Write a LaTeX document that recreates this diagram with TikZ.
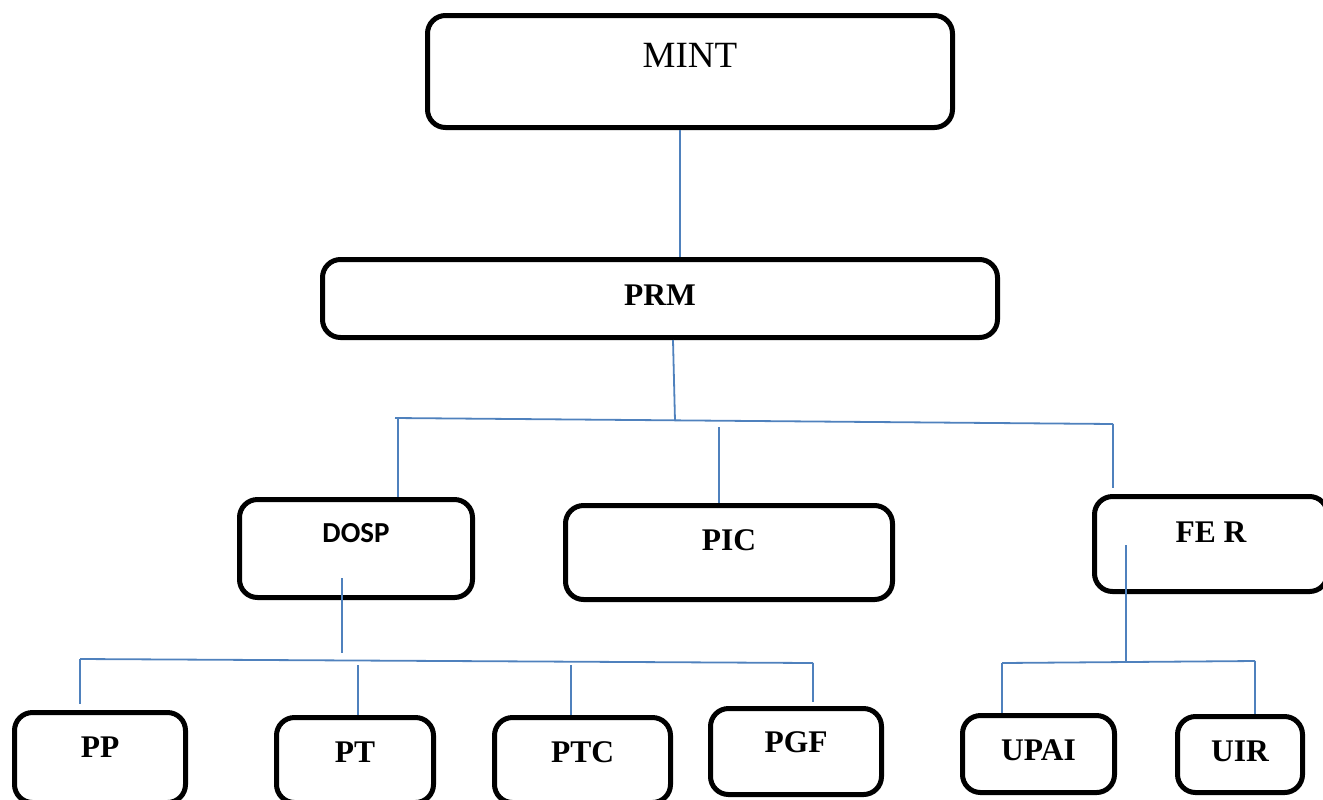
\documentclass[tikz,border=0pt]{standalone}
\usepackage{fontspec}
\setmainfont{Liberation Serif}
\newfontfamily\calibfont{Carlito}
\usepackage{tikz}
\usetikzlibrary{calc}
\usepackage{xcolor}
\definecolor{linkblue}{RGB}{79,129,189}

\begin{document}
\begin{tikzpicture}[
    x=0.5pt, y=-0.5pt,
    box/.style={
        rectangle, rounded corners=9pt, draw, line width=2.5pt,
        align=center, inner sep=0pt, text height=10.4pt,
        font=\fontsize{15.75}{18}\selectfont\bfseries
    },
    lift/.style={text depth=#1},
    link/.style={linkblue, line width=0.9pt}
]
\useasboundingbox (0,0) rectangle (1323,799);

% Top levels
\node[box, minimum width=262.5pt, minimum height=56pt, lift=16.5pt,
      font=\fontsize{18.5}{21}\selectfont, text height=12.2pt] (mint) at (690,71.5) {MINT};
\node[box, minimum width=337.5pt, minimum height=39pt, lift=3.5pt] (prm) at (660,298.5) {PRM};

% Middle row
\node[box, minimum width=116.5pt, minimum height=49pt, lift=15.5pt,
      font=\fontsize{14.5}{17}\calibfont\bfseries, text height=9.3pt] (dosp) at (356,548.5) {DOSP};
\node[box, minimum width=163.5pt, minimum height=47pt, lift=12.5pt] (pic) at (729,552.5) {PIC};
\node[box, minimum width=116.5pt, minimum height=47.5pt, lift=12pt] (fer) at (1211,544) {FE R};

% Bottom row
\node[box, minimum width=85.5pt, minimum height=45pt, lift=10.5pt] (pp) at (100,757.5) {PP};
\node[box, minimum width=78.5pt, minimum height=42.5pt, lift=8pt] (pt) at (355,760) {PT};
\node[box, minimum width=88pt, minimum height=42.5pt, lift=8pt] (ptc) at (582.5,760) {PTC};
\node[box, minimum width=85.5pt, minimum height=43pt, lift=9.5pt] (pgf) at (796,751.5) {PGF};
\node[box, minimum width=76pt, minimum height=38.5pt, lift=4pt] (upai) at (1038.5,754) {UPAI};
\node[box, minimum width=62.5pt, minimum height=38pt, lift=3.5pt] (uir) at (1240,754.5) {UIR};

% Bus points
\coordinate (busA-l) at (395,418);
\coordinate (busA-m) at (675,421);
\coordinate (busA-r) at (1113,424);
\coordinate (picTop) at (719,427);
\coordinate (dospDrop) at (342,578);
\coordinate (busB-l) at (80,659);
\coordinate (busB-r) at (813,663);
\coordinate (ptTop) at (358,665);
\coordinate (ptcTop) at (571,665);
\coordinate (ferDrop) at (1126,545);
\coordinate (busC-l) at (1002,663);
\coordinate (busC-m) at (1126,662);
\coordinate (busC-r) at (1255,661);

% Connectors
\draw[link] ([xshift=-5pt]mint.south) -- ([xshift=-5pt]mint.south |- prm.north);
\draw[link] ([xshift=6.5pt]prm.south) -- (busA-m);
\draw[link] (busA-l) -- (busA-r);
\draw[link] ([xshift=21pt]dosp.north |- busA-l) -- ([xshift=21pt]dosp.north);
\draw[link] (picTop) -- (picTop |- pic.north);
\draw[link] (busA-r) -- ([yshift=3pt]busA-r |- fer.north);

\draw[link] (dospDrop) -- ([yshift=3pt]dospDrop |- busB-l);
\draw[link] (busB-l) -- (busB-r);
\draw[link] (busB-l) -- ([yshift=3pt]busB-l |- pp.north);
\draw[link] (ptTop) -- (ptTop |- pt.north);
\draw[link] (ptcTop) -- (ptcTop |- ptc.north);
\draw[link] (busB-r) -- ([yshift=2pt]busB-r |- pgf.north);

\draw[link] (ferDrop) -- (busC-m);
\draw[link] (busC-l) -- (busC-r);
\draw[link] (busC-l) -- (busC-l |- upai.north);
\draw[link] (busC-r) -- (busC-r |- uir.north);

\end{tikzpicture}
\end{document}
